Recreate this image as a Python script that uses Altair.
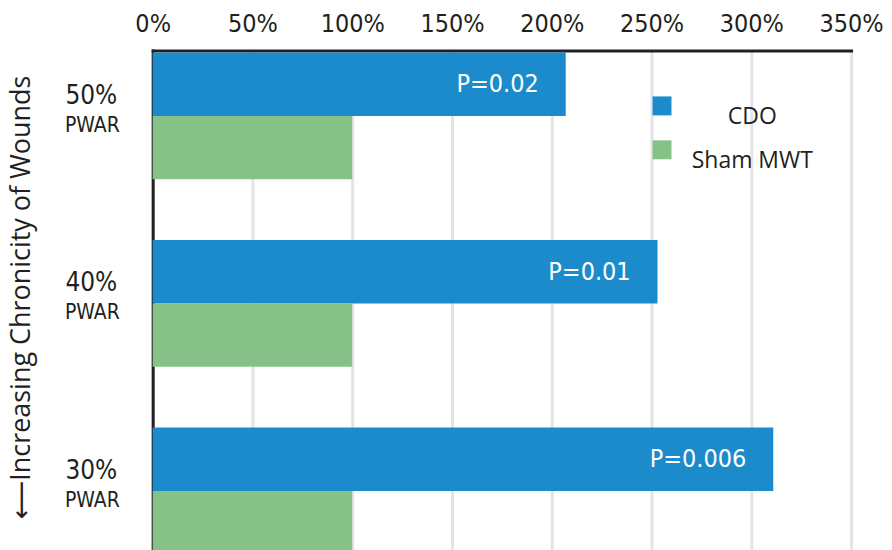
import altair as alt
import pandas as pd

groups = ["50%", "40%", "30%"]
series = ["CDO", "Sham MWT"]
cdo_values = [207, 253, 311]
sham_values = [100, 100, 100]
p_labels = ["P=0.02", "P=0.01", "P=0.006"]
sub_label = "PWAR"
x_ticks = [0, 50, 100, 150, 200, 250, 300, 350]
colors = ["#1b8bcc", "#86c187"]

rows = []
for g, c, s, p in zip(groups, cdo_values, sham_values, p_labels):
    rows.append({"group": g, "series": "CDO", "value": c, "p": p})
    rows.append({"group": g, "series": "Sham MWT", "value": s, "p": ""})
df = pd.DataFrame(rows)
sub_df = pd.DataFrame({"group": groups, "sub": [sub_label] * len(groups)})

NARROW = "DejaVu Sans Condensed, sans-serif"
MYRIAD = "Open Sans, DejaVu Sans, sans-serif"

y_enc = alt.Y(
    "group:N",
    sort=groups,
    scale=alt.Scale(paddingInner=0.324, paddingOuter=0.0106),
    axis=alt.Axis(
        title="⟵Increasing Chronicity of Wounds",
        titleFont=MYRIAD,
        titleFontSize=27,
        titleFontWeight="normal",
        titleColor="#231f20",
        titlePadding=29,
        titleY=247,
        labelFont=NARROW,
        labelFontSize=26,
        labelColor="#231f20",
        labelPadding=36,
        labelOffset=-20,
        ticks=False,
        tickSize=0,
        domainColor="#231f20",
        domainWidth=3,
        grid=False,
    ),
)

x_enc = alt.X(
    "value:Q",
    scale=alt.Scale(domain=[0, 350], nice=False),
    axis=alt.Axis(
        orient="top",
        values=x_ticks,
        labelExpr="datum.value + '%'",
        title=None,
        labelFont=NARROW,
        labelFontSize=25,
        labelColor="#231f20",
        labelPadding=14,
        labelOverlap=False,
        labelBound=False,
        labelFlush=False,
        ticks=False,
        tickSize=0,
        domainColor="#231f20",
        domainWidth=3,
        grid=True,
        gridColor="#e4e4e7",
        gridWidth=3,
    ),
)

bars = alt.Chart(df).mark_bar().encode(
    x=x_enc,
    y=y_enc,
    yOffset=alt.YOffset("series:N", sort=series),
    color=alt.Color(
        "series:N",
        sort=series,
        scale=alt.Scale(domain=series, range=colors),
        legend=alt.Legend(
            title=None,
            orient="none",
            legendX=499,
            legendY=44,
            symbolType="square",
            symbolSize=361,
            symbolStrokeWidth=0,
            labelFont=MYRIAD,
            labelFontSize=23,
            labelColor="#231f20",
            labelAlign="center",
            labelBaseline="top",
            labelOffset=79,
            rowPadding=9,
            padding=0,
        ),
    ),
)

ptext = alt.Chart(df).transform_filter("datum.p != ''").mark_text(
    align="right", baseline="middle", dx=-27, color="white",
    font=NARROW, fontSize=25,
).encode(
    x="value:Q",
    y=alt.Y("group:N", sort=groups),
    yOffset=alt.YOffset("series:N", sort=series),
    text="p:N",
)

subtext = alt.Chart(sub_df).mark_text(
    align="right", baseline="middle", dy=10, color="#231f20",
    font=NARROW, fontSize=21,
).encode(
    x=alt.value(-33),
    y=alt.Y("group:N", sort=groups),
    text="sub:N",
)

chart = alt.layer(bars, ptext, subtext).properties(
    width=700, height=507,
    padding={"top": 3, "left": 0, "right": 0, "bottom": 0},
).configure_view(stroke=None).configure_axis(domainCap="square")

chart.save("out.html", embed_options={"renderer": "svg", "actions": False})
